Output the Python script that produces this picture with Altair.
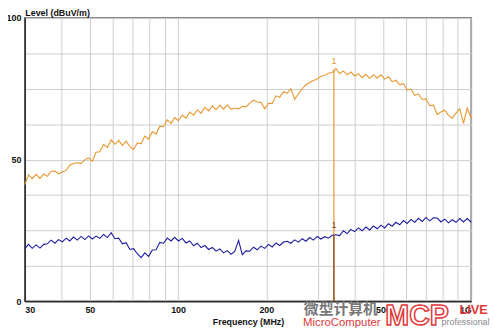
import altair as alt
import pandas as pd

# ---------------- data ----------------
freq = [
    30, 30.9, 31.8, 32.8, 33.8, 34.8, 35.8, 36.9, 38.0, 39.1,
    40.3, 41.5, 42.7, 44.0, 45.3, 46.7, 48.1, 49.5, 51.0, 52.5,
    54.1, 55.7, 57.4, 59.1, 60.9, 62.7, 64.6, 66.5, 68.5, 70.5,
    72.6, 74.8, 77.0, 79.3, 81.7, 84.1, 86.6, 89.2, 91.9, 94.6,
    97.4, 100.3, 103.3, 106.4, 109.6, 112.9, 116.3, 119.8, 123.4, 127.1,
    130.9, 134.8, 138.8, 142.9, 147.2, 151.6, 156.1, 160.8, 165.6, 170.5,
    175.6, 180.8, 186.2, 191.8, 197.5, 203.4, 209.5, 215.8, 222.2, 228.8,
    235.6, 242.6, 249.9, 257.4, 265.1, 273.0, 281.1, 289.5, 298.2, 307.1,
    316.3, 325.7, 335.4, 345.4, 355.7, 366.3, 377.3, 388.6, 400.2, 412.2,
    424.5, 437.2, 450.3, 463.8, 477.7, 492.0, 506.7, 521.8, 537.4, 553.5,
    570.0, 587.1, 604.6, 622.7, 641.3, 660.5, 680.2, 700.5, 721.5, 743.1,
    765.3, 788.2, 811.8, 836.1, 861.1, 886.8, 913.3, 940.6, 968.7, 1000,
]

level_orange = [
    41.2, 44.6, 43.3, 44.8, 43.4, 44.9, 44.1, 45.9, 46.0, 45.0,
    45.6, 46.2, 48.0, 48.6, 48.9, 48.7, 50.0, 50.6, 49.4, 52.6,
    52.8, 55.4, 54.3, 56.9, 55.4, 56.8, 55.0, 56.5, 54.6, 53.6,
    55.9, 55.6, 58.3, 57.2, 59.9, 59.0, 61.8, 61.6, 64.0, 62.8,
    64.8, 63.7, 65.7, 64.6, 66.8, 65.7, 67.6, 66.3, 68.4, 67.2,
    69.0, 67.6, 69.2, 67.8, 69.3, 67.7, 68.2, 67.9, 68.8, 68.6,
    69.9, 71.0, 70.3, 70.2, 67.9, 69.9, 69.8, 72.5, 72.0, 74.0,
    73.4, 75.0, 71.3, 73.3, 75.0, 76.4, 77.2, 77.9, 78.4, 79.4,
    79.7, 80.5, 80.7, 82.1, 80.3, 81.3, 79.9, 80.9, 79.5, 80.3,
    78.9, 80.1, 78.7, 79.9, 78.8, 79.9, 78.4, 79.2, 77.5, 78.0,
    76.4, 76.8, 74.5, 74.9, 72.7, 73.2, 71.2, 71.4, 69.0, 69.2,
    65.9, 66.8, 67.4, 65.6, 64.6, 66.4, 68.0, 62.8, 68.2, 64.6,
]

level_blue = [
    18.6, 20.1, 18.7, 19.9, 18.8, 20.1, 20.3, 21.6, 20.5, 21.8,
    21.0, 22.3, 21.3, 22.7, 21.6, 22.9, 21.8, 23.1, 22.0, 23.0,
    22.2, 23.6, 22.5, 24.2, 22.1, 22.3, 20.3, 20.7, 18.3, 18.6,
    16.8, 15.4, 17.1, 15.9, 18.1, 18.2, 20.8, 20.5, 22.3, 21.3,
    22.6, 21.3, 22.2, 20.6, 21.3, 19.6, 20.5, 19.0, 19.7, 18.3,
    19.0, 17.7, 18.5, 17.1, 17.9, 16.6, 17.6, 21.5, 16.5, 17.8,
    17.7, 19.1, 18.2, 19.5, 18.7, 20.1, 19.2, 20.6, 19.7, 20.9,
    21.2, 20.5, 21.7, 20.9, 22.1, 21.2, 22.5, 21.6, 22.9, 22.0,
    22.8, 22.3, 23.3, 23.5, 23.2, 24.9, 23.9, 25.4, 24.6, 25.9,
    24.9, 26.2, 25.2, 26.6, 25.6, 26.9, 25.9, 27.4, 26.5, 27.9,
    27.0, 28.5, 27.5, 28.9, 27.9, 29.3, 28.2, 29.6, 28.4, 29.5,
    29.4, 28.0, 29.0, 27.7, 28.8, 27.9, 29.2, 28.0, 29.2, 27.9,
]

marker_freq = [340, 340]
marker_top = [81.8, 23.6]
marker_label_y = [84.8, 26.8]
marker_text = ["1", "1"]

x_grid = [30, 40, 50, 60, 70, 80, 90, 100, 200, 300, 400, 500, 600, 700, 800, 900, 1000]
y_grid = [0, 12.5, 25, 37.5, 50, 62.5, 75, 87.5, 100]

ORANGE = "#e8962e"
BLUE = "#1c1ca0"
MARK_DARK = "#7a3f1c"
FONT = "Liberation Sans"

# ---------------- chart ----------------
df = pd.DataFrame({"freq": freq, "orange": level_orange, "blue": level_blue})
markers = pd.DataFrame({
    "freq": marker_freq,
    "base": [0, 0],
    "top": marker_top,
    "ly": marker_label_y,
    "t": marker_text,
    "c": [ORANGE, MARK_DARK],
})

xscale = alt.Scale(type="log", domain=[30, 1000], nice=False)
yscale = alt.Scale(domain=[0, 100], nice=False, zero=False)

xaxis = alt.Axis(
    values=x_grid,
    format="d",
    labelExpr="indexof([30,50,100,200,500], datum.value) >= 0 ? datum.label : (datum.value == 1000 ? '1G' : '')",
    title="Frequency (MHz)",
    labelFlush=True,
    labelOverlap=False,
    labelPadding=4,
    titleY=23,
    titleBaseline="alphabetic",
)
yaxis = alt.Axis(
    values=y_grid,
    format="d",
    labelExpr="datum.value % 50 == 0 ? datum.label : ''",
    title="Level (dBuV/m)",
    titleAngle=0,
    titleAlign="left",
    titleX=0,
    titleY=-2,
    titleBaseline="alphabetic",
    labelOverlap=False,
    labelPadding=4,
)


def X(field):
    return alt.X(field, scale=xscale, axis=xaxis)


def Y(field):
    return alt.Y(field, scale=yscale, axis=yaxis)


blue_line = alt.Chart(df).mark_line(color=BLUE, strokeWidth=1.1).encode(
    x=X("freq:Q"), y=Y("blue:Q"))
orange_line = alt.Chart(df).mark_line(color=ORANGE, strokeWidth=1.1).encode(
    x=X("freq:Q"), y=Y("orange:Q"))

rules = alt.Chart(markers).mark_rule(strokeWidth=1.2).encode(
    x=X("freq:Q"), y=Y("base:Q"), y2="top:Q",
    color=alt.Color("c:N", scale=None))
labels = alt.Chart(markers).mark_text(fontSize=9, font=FONT).encode(
    x=X("freq:Q"), y=Y("ly:Q"), text="t:N",
    color=alt.Color("c:N", scale=None))

# watermark (logo text at bottom right)
wm = pd.DataFrame({"a": ["微型计算机"], "b": ["MicroComputer"], "c": ["MCP"],
                   "d": ["LIVE"], "e": ["professional"]})
wm1 = alt.Chart(wm).mark_text(font="Noto Sans CJK SC", fontWeight="bold", fontSize=15,
                              color="#777777", align="center", baseline="middle").encode(
    x=alt.value(320), y=alt.value(295), text="a:N")
wm2 = alt.Chart(wm).mark_text(font=FONT, fontSize=11.5, color="#e03a3a",
                              align="center", baseline="middle").encode(
    x=alt.value(321), y=alt.value(308.5), text="b:N")
wm3 = alt.Chart(wm).mark_text(font=FONT, fontWeight="bold", fontSize=29, fill="white",
                              stroke="#e03a3a", strokeWidth=1.5,
                              align="left", baseline="alphabetic").encode(
    x=alt.value(365), y=alt.value(311), text="c:N")
wm4 = alt.Chart(wm).mark_text(font=FONT, fontWeight="bold", fontSize=13, color="#e03a3a",
                              align="left", baseline="middle").encode(
    x=alt.value(440), y=alt.value(296), text="d:N")
wm5 = alt.Chart(wm).mark_text(font=FONT, fontSize=9, color="#8a8a8a",
                              align="left", baseline="middle").encode(
    x=alt.value(422), y=alt.value(308), text="e:N")

chart = alt.layer(
    blue_line, orange_line, rules, labels, wm1, wm2, wm3, wm4, wm5
).properties(
    width=452,
    height=287,
    autosize=alt.AutoSizeParams(type="none"),
    padding={"left": 17, "top": 8, "right": 21, "bottom": 27},
    background="white",
).configure_view(
    stroke="#555555", strokeWidth=1.5
).configure_axis(
    labelFont=FONT, labelFontWeight="bold", labelFontSize=9, labelColor="#111111",
    titleFont=FONT, titleFontWeight="bold", titleFontSize=9, titleColor="#111111",
    grid=True, gridColor="#cdcdcd", gridWidth=1,
    domainColor="#333333", domainWidth=1.5, ticks=False,
)

chart.save("out.html", embed_options={"renderer": "svg", "actions": False})
